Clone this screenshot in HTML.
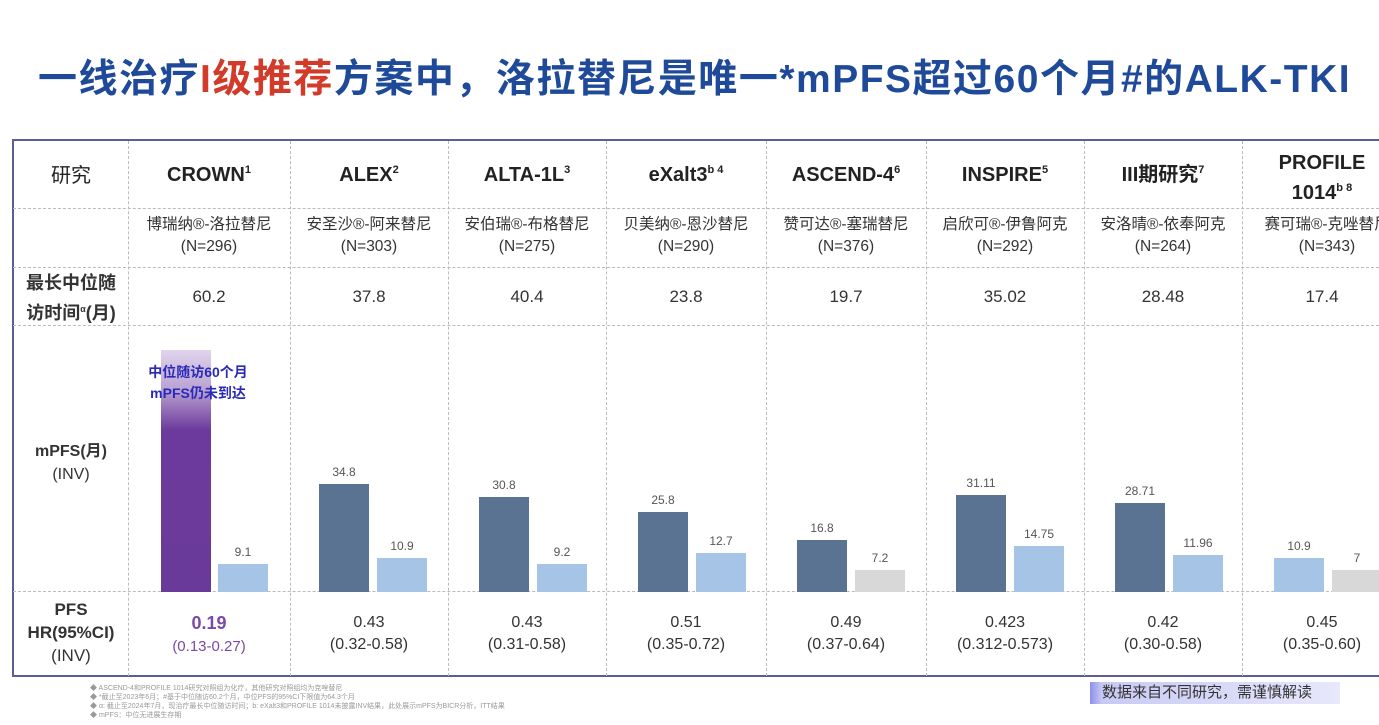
<!DOCTYPE html>
<html><head><meta charset="utf-8"><style>
*{margin:0;padding:0;box-sizing:border-box}
body{width:1379px;height:725px;background:#fff;position:relative;overflow:hidden;font-family:"Liberation Sans","Noto Sans CJK SC",sans-serif;color:#333}
.a{position:absolute}
.t{position:absolute;left:38px;top:56px;font-size:39px;font-weight:bold;color:#1f4a9a;white-space:nowrap;letter-spacing:1.5px;line-height:48px}
.t span{color:#d23a2a}
.vl{position:absolute;border-left:1px dashed #bbb;top:141px;height:535px}
.hl{position:absolute;left:13px;width:1366px;border-top:1px dashed #bbb}
.c{position:absolute;text-align:center;white-space:nowrap}
.h{font-size:20px;font-weight:bold;color:#222;line-height:24px}
.h sup{font-size:11px;line-height:0;vertical-align:8px}
.d{font-size:15.5px;color:#333;line-height:22px}
.f{font-size:17px;color:#333}
.bar{position:absolute}
.v{position:absolute;font-size:12px;color:#555;text-align:center;width:60px}
.hr{font-size:16px;color:#333;line-height:22px}
.fn{position:absolute;left:90px;font-size:7px;color:#999;white-space:nowrap}
</style></head><body>
<div class="t">一线治疗<span>I级推荐</span>方案中，洛拉替尼是唯一*mPFS超过60个月#的ALK-TKI</div>
<div class="a" style="left:12px;top:139px;width:1380px;height:538px;border:2px solid #5a5e95;border-right:none"></div>
<div class="vl" style="left:128px"></div><div class="vl" style="left:290px"></div><div class="vl" style="left:448px"></div><div class="vl" style="left:606px"></div><div class="vl" style="left:766px"></div><div class="vl" style="left:926px"></div><div class="vl" style="left:1084px"></div><div class="vl" style="left:1242px"></div>
<div class="hl" style="top:208px"></div><div class="hl" style="top:267px"></div><div class="hl" style="top:325px"></div><div class="hl" style="top:591px"></div>
<div class="c h" style="left:14px;width:114px;top:164px;font-weight:normal">研究</div>
<div class="c h" style="left:128px;width:162px;top:163px">CROWN<sup>1</sup></div>
<div class="c h" style="left:290px;width:158px;top:163px">ALEX<sup>2</sup></div>
<div class="c h" style="left:448px;width:158px;top:163px">ALTA-1L<sup>3</sup></div>
<div class="c h" style="left:606px;width:160px;top:163px">eXalt3<sup>b 4</sup></div>
<div class="c h" style="left:766px;width:160px;top:163px">ASCEND-4<sup>6</sup></div>
<div class="c h" style="left:926px;width:158px;top:163px">INSPIRE<sup>5</sup></div>
<div class="c h" style="left:1084px;width:158px;top:163px">III期研究<sup>7</sup></div>
<div class="c h" style="left:1242px;width:160px;top:148px;line-height:30px">PROFILE<br>1014<sup>b 8</sup></div>
<div class="c d" style="left:128px;width:162px;top:214px">博瑞纳®-洛拉替尼<br>(N=296)</div>
<div class="c d" style="left:290px;width:158px;top:214px">安圣沙®-阿来替尼<br>(N=303)</div>
<div class="c d" style="left:448px;width:158px;top:214px">安伯瑞®-布格替尼<br>(N=275)</div>
<div class="c d" style="left:606px;width:160px;top:214px">贝美纳®-恩沙替尼<br>(N=290)</div>
<div class="c d" style="left:766px;width:160px;top:214px">赞可达®-塞瑞替尼<br>(N=376)</div>
<div class="c d" style="left:926px;width:158px;top:214px">启欣可®-伊鲁阿克<br>(N=292)</div>
<div class="c d" style="left:1084px;width:158px;top:214px">安洛晴®-依奉阿克<br>(N=264)</div>
<div class="c d" style="left:1242px;width:170px;top:214px">赛可瑞®-克唑替尼<br>(N=343)</div>
<div class="c" style="left:14px;width:114px;top:270px;font-size:18px;line-height:26px;font-weight:bold;color:#333">最长中位随<br>访时间<sup style="font-size:9px">α</sup>(月)</div>
<div class="c f" style="left:128px;width:162px;top:287px">60.2</div>
<div class="c f" style="left:290px;width:158px;top:287px">37.8</div>
<div class="c f" style="left:448px;width:158px;top:287px">40.4</div>
<div class="c f" style="left:606px;width:160px;top:287px">23.8</div>
<div class="c f" style="left:766px;width:160px;top:287px">19.7</div>
<div class="c f" style="left:926px;width:158px;top:287px">35.02</div>
<div class="c f" style="left:1084px;width:158px;top:287px">28.48</div>
<div class="c f" style="left:1242px;width:160px;top:287px">17.4</div>
<div class="c" style="left:14px;width:114px;top:440px;font-size:16px;line-height:23px"><b>mPFS(月)</b><br>(INV)</div>
<div class="bar" style="left:161px;top:350px;width:50px;height:242px;background:linear-gradient(#e0d4ec 0px,#b9a2d2 40px,#6c3a9c 80px,#6a3a9a 242px)"></div>
<div class="c" style="left:120px;width:156px;top:362px;font-size:14px;line-height:21px;font-weight:bold;color:#2a2ab8">中位随访60个月<br>mPFS仍未到达</div>
<div class="bar" style="left:218px;top:564px;width:50px;height:28px;background:#a6c4e6"></div><div class="v" style="left:213px;top:545px">9.1</div>
<div class="bar" style="left:319px;top:484px;width:50px;height:108px;background:#5a7393"></div><div class="v" style="left:314px;top:465px">34.8</div>
<div class="bar" style="left:377px;top:558px;width:50px;height:34px;background:#a6c4e6"></div><div class="v" style="left:372px;top:539px">10.9</div>
<div class="bar" style="left:479px;top:497px;width:50px;height:95px;background:#5a7393"></div><div class="v" style="left:474px;top:478px">30.8</div>
<div class="bar" style="left:537px;top:564px;width:50px;height:28px;background:#a6c4e6"></div><div class="v" style="left:532px;top:545px">9.2</div>
<div class="bar" style="left:638px;top:512px;width:50px;height:80px;background:#5a7393"></div><div class="v" style="left:633px;top:493px">25.8</div>
<div class="bar" style="left:696px;top:553px;width:50px;height:39px;background:#a6c4e6"></div><div class="v" style="left:691px;top:534px">12.7</div>
<div class="bar" style="left:797px;top:540px;width:50px;height:52px;background:#5a7393"></div><div class="v" style="left:792px;top:521px">16.8</div>
<div class="bar" style="left:855px;top:570px;width:50px;height:22px;background:#d8d8d8"></div><div class="v" style="left:850px;top:551px">7.2</div>
<div class="bar" style="left:956px;top:495px;width:50px;height:97px;background:#5a7393"></div><div class="v" style="left:951px;top:476px">31.11</div>
<div class="bar" style="left:1014px;top:546px;width:50px;height:46px;background:#a6c4e6"></div><div class="v" style="left:1009px;top:527px">14.75</div>
<div class="bar" style="left:1115px;top:503px;width:50px;height:89px;background:#5a7393"></div><div class="v" style="left:1110px;top:484px">28.71</div>
<div class="bar" style="left:1173px;top:555px;width:50px;height:37px;background:#a6c4e6"></div><div class="v" style="left:1168px;top:536px">11.96</div>
<div class="bar" style="left:1274px;top:558px;width:50px;height:34px;background:#a6c4e6"></div><div class="v" style="left:1269px;top:539px">10.9</div>
<div class="bar" style="left:1332px;top:570px;width:50px;height:22px;background:#d8d8d8"></div><div class="v" style="left:1327px;top:551px">7</div>
<div class="c" style="left:14px;width:114px;top:598px;font-size:17px;line-height:23px"><b>PFS<br>HR(95%CI)</b><br>(INV)</div>
<div class="c hr" style="left:128px;width:162px;top:612px;color:#7a4aa8"><b style="font-size:18px">0.19</b><br><span style="font-size:15px">(0.13-0.27)</span></div>
<div class="c hr" style="left:290px;width:158px;top:612px">0.43<br>(0.32-0.58)</div>
<div class="c hr" style="left:448px;width:158px;top:612px">0.43<br>(0.31-0.58)</div>
<div class="c hr" style="left:606px;width:160px;top:612px">0.51<br>(0.35-0.72)</div>
<div class="c hr" style="left:766px;width:160px;top:612px">0.49<br>(0.37-0.64)</div>
<div class="c hr" style="left:926px;width:158px;top:612px">0.423<br>(0.312-0.573)</div>
<div class="c hr" style="left:1084px;width:158px;top:612px">0.42<br>(0.30-0.58)</div>
<div class="c hr" style="left:1242px;width:160px;top:612px">0.45<br>(0.35-0.60)</div>
<div class="fn" style="top:683px">◆ ASCEND-4和PROFILE 1014研究对照组为化疗，其他研究对照组均为克唑替尼</div>
<div class="fn" style="top:692px">◆ *截止至2023年6月；#基于中位随访60.2个月，中位PFS的95%CI下限值为64.3个月</div>
<div class="fn" style="top:701px">◆ α: 截止至2024年7月，现治疗最长中位随访时间；b: eXalt3和PROFILE 1014未披露INV结果，此处展示mPFS为BICR分析，ITT结果</div>
<div class="fn" style="top:710px">◆ mPFS：中位无进展生存期</div>
<div class="a" style="left:1090px;top:682px;width:250px;height:22px;background:linear-gradient(90deg,#8c90ea 0px,#c8caf4 12px,#e8e8fb 100%);font-size:15px;line-height:22px;padding-left:12px;color:#333">数据来自不同研究，需谨慎解读</div>
</body></html>
